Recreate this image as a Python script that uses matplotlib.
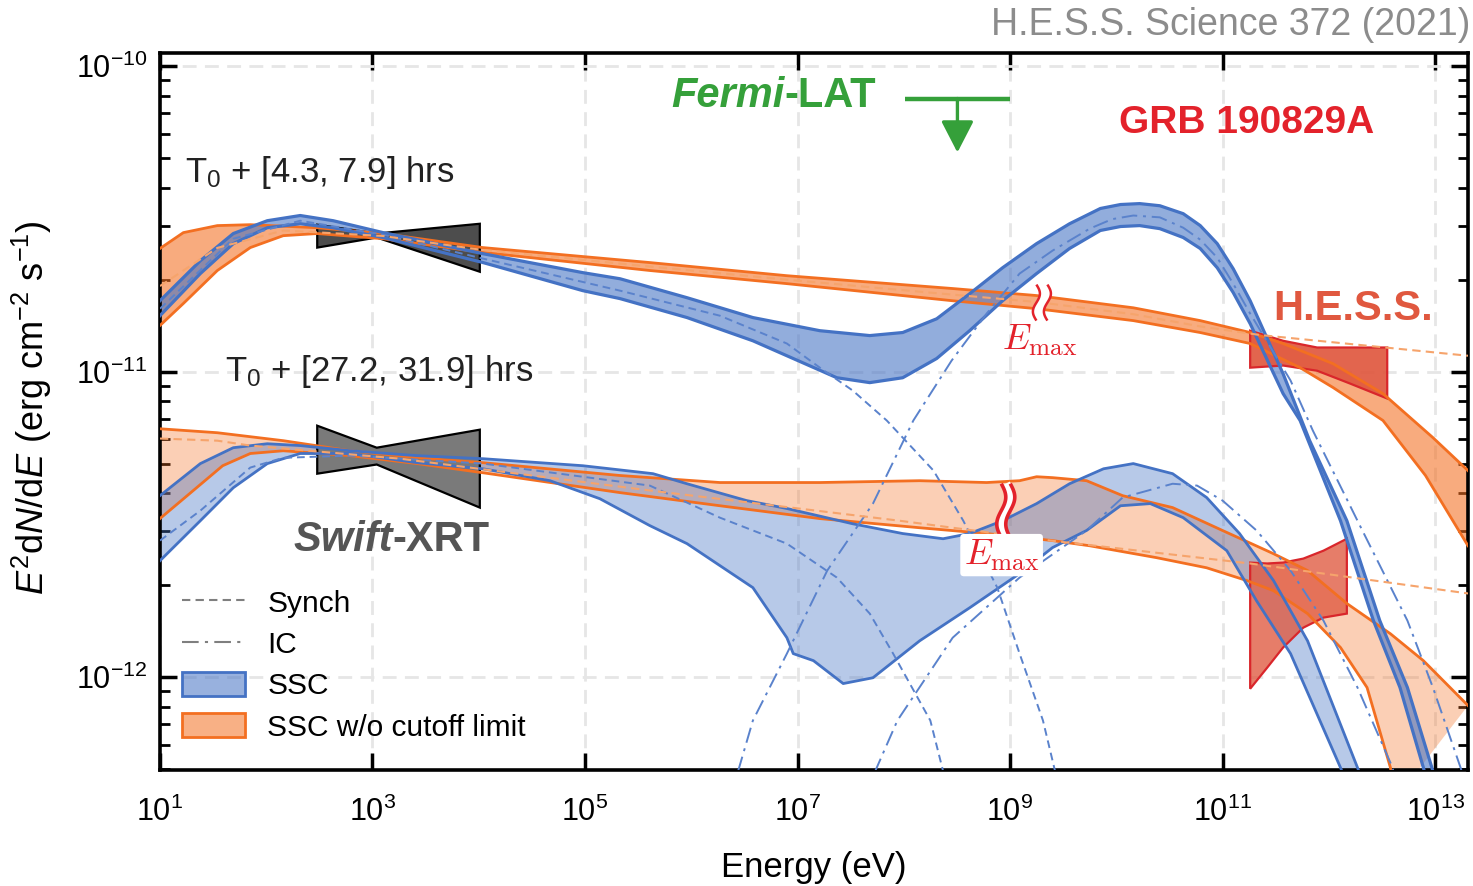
#!/usr/bin/env python3
"""GRB 190829A broadband SED at two epochs: SSC model bands against
Swift-XRT / H.E.S.S. bowties and the Fermi-LAT upper limit.

All curves are read off the published figure and kept as
log10(E / eV) and log10(E^2 dN/dE / erg cm^-2 s^-1).
"""

import numpy as np
import matplotlib
matplotlib.use("Agg")
import matplotlib.pyplot as plt
from matplotlib.colors import to_rgba
from matplotlib.lines import Line2D
from matplotlib.patches import Patch, FancyArrowPatch
from matplotlib.ticker import FixedLocator, NullLocator

# ---- epoch 1: T0 + [4.3, 7.9] hrs ---------------------------------------
T1_SSC_HI_LOGE = [1.00, 1.38, 1.69, 2.01, 2.32, 2.63, 3.10, 4.04, 4.98, 5.33,
                  5.96, 6.58, 7.21, 7.68, 7.99, 8.31, 8.62, 8.93, 9.25, 9.56,
                  9.85, 10.04, 10.22, 10.41, 10.63, 10.79, 10.95, 11.10, 11.26,
                  11.57, 11.82, 12.17, 12.48, 12.74, 12.97, 13.05]
T1_SSC_HI_LOGF = [-10.768, -10.637, -10.548, -10.506, -10.489, -10.506, -10.545,
                  -10.614, -10.676, -10.696, -10.758, -10.823, -10.866, -10.882,
                  -10.872, -10.827, -10.745, -10.660, -10.581, -10.516, -10.466,
                  -10.453, -10.450, -10.457, -10.483, -10.522, -10.581, -10.663,
                  -10.768, -11.007, -11.226, -11.488, -11.815, -12.034, -12.296,
                  -12.404]
T1_SSC_LO_LOGE = [1.00, 1.38, 1.69, 2.01, 2.32, 2.63, 3.10, 4.04, 4.98, 5.33,
                  5.96, 6.58, 7.05, 7.37, 7.68, 7.99, 8.31, 8.62, 8.93, 9.25,
                  9.56, 9.85, 10.04, 10.22, 10.41, 10.63, 10.79, 10.95, 11.10,
                  11.26, 11.57, 11.73, 12.11, 12.42, 12.67, 12.89, 12.97]
T1_SSC_LO_LOGF = [-10.817, -10.679, -10.581, -10.529, -10.516, -10.529, -10.561,
                  -10.643, -10.735, -10.761, -10.823, -10.899, -10.971, -11.020,
                  -11.036, -11.020, -10.957, -10.866, -10.768, -10.679, -10.597,
                  -10.538, -10.525, -10.522, -10.532, -10.561, -10.597, -10.660,
                  -10.741, -10.843, -11.072, -11.160, -11.488, -11.815, -12.034,
                  -12.296, -12.404]
T1_SYN_LOGE = [1.00, 1.69, 2.32, 3.10, 4.04, 5.33, 6.27, 6.90, 7.21, 7.52, 7.84,
               8.28, 8.56, 8.88, 9.09, 9.31, 9.49]
T1_SYN_LOGF = [-10.794, -10.565, -10.506, -10.552, -10.630, -10.735, -10.817,
               -10.908, -10.987, -11.062, -11.160, -11.324, -11.488, -11.707,
               -11.923, -12.142, -12.404]
T1_IC_LOGE = [6.36, 6.58, 6.90, 7.28, 7.71, 8.09, 8.45, 8.78, 9.09, 9.40, 9.75,
              9.96, 10.16, 10.41, 10.63, 10.79, 10.95, 11.10, 11.26, 11.64,
              11.85, 12.27, 12.74, 12.98, 13.24, 13.33]
T1_IC_LOGF = [-12.404, -12.142, -11.923, -11.651, -11.432, -11.160, -10.964,
              -10.810, -10.679, -10.604, -10.532, -10.501, -10.489, -10.495,
              -10.529, -10.568, -10.627, -10.712, -10.810, -11.029, -11.193,
              -11.488, -11.815, -12.034, -12.296, -12.404]
T1_NOCUT_HI_LOGE = [1.00, 1.22, 1.54, 1.85, 2.48, 3.10, 4.04, 5.61, 6.90, 8.46,
                    9.25, 10.16, 10.79, 11.26, 11.57, 12.04, 12.51, 12.98, 13.31]
T1_NOCUT_HI_LOGF = [-10.597, -10.545, -10.522, -10.519, -10.529, -10.548,
                    -10.594, -10.643, -10.686, -10.728, -10.751, -10.791,
                    -10.833, -10.872, -10.908, -10.974, -11.072, -11.216, -11.324]
T1_NOCUT_LO_LOGE = [1.00, 1.22, 1.54, 1.85, 2.16, 2.48, 3.10, 4.04, 5.61, 6.90,
                    8.46, 9.25, 10.16, 10.79, 11.26, 11.73, 12.04, 12.51, 12.91,
                    13.31]
T1_NOCUT_LO_LOGF = [-10.849, -10.777, -10.669, -10.594, -10.555, -10.548,
                    -10.565, -10.610, -10.669, -10.712, -10.768, -10.794,
                    -10.833, -10.872, -10.908, -10.987, -11.052, -11.160,
                    -11.340, -11.570]
T1_NOCUT_SYN_LOGE = [1.00, 1.54, 2.16, 3.10, 4.04, 5.61, 6.90, 8.46, 9.25, 10.16,
                     10.79, 11.35, 13.31]
T1_NOCUT_SYN_LOGF = [-10.720, -10.595, -10.538, -10.556, -10.602, -10.656,
                     -10.699, -10.748, -10.772, -10.812, -10.852, -10.880,
                     -10.948]

# ---- epoch 2: T0 + [27.2, 31.9] hrs -------------------------------------
T2_SSC_HI_LOGE = [1.00, 1.38, 1.69, 2.01, 2.32, 2.79, 3.42, 4.04, 4.98, 5.64,
                  5.96, 6.52, 6.90, 7.52, 7.99, 8.37, 8.62, 8.93, 9.25, 9.56,
                  9.88, 10.16, 10.53, 10.85, 11.16, 11.48, 11.80, 12.27, 12.39]
T2_SSC_HI_LOGF = [-11.406, -11.301, -11.249, -11.236, -11.242, -11.259, -11.275,
                  -11.285, -11.308, -11.334, -11.367, -11.422, -11.448, -11.498,
                  -11.530, -11.547, -11.530, -11.488, -11.432, -11.367, -11.318,
                  -11.301, -11.334, -11.412, -11.530, -11.684, -11.881, -12.296,
                  -12.404]
T2_SSC_LO_LOGE = [1.00, 1.38, 1.69, 2.01, 2.32, 2.79, 3.42, 4.04, 4.67, 5.14,
                  5.61, 5.96, 6.58, 6.90, 6.96, 7.15, 7.43, 7.71, 8.15, 8.62,
                  9.09, 9.40, 9.72, 10.04, 10.32, 10.63, 11.04, 11.32, 11.64,
                  12.11, 12.23]
T2_SSC_LO_LOGF = [-11.619, -11.488, -11.380, -11.301, -11.268, -11.268, -11.298,
                  -11.318, -11.357, -11.416, -11.504, -11.563, -11.707, -11.871,
                  -11.923, -11.946, -12.021, -12.002, -11.881, -11.773, -11.661,
                  -11.576, -11.520, -11.439, -11.432, -11.478, -11.586, -11.750,
                  -11.923, -12.296, -12.404]
T2_SYN_LOGE = [1.00, 1.38, 1.85, 2.16, 2.79, 4.04, 5.61, 6.27, 6.90, 7.37, 7.68,
               7.90, 8.25, 8.44]
T2_SYN_LOGF = [-11.553, -11.455, -11.314, -11.282, -11.275, -11.301, -11.373,
               -11.478, -11.563, -11.674, -11.792, -11.923, -12.142, -12.404]
T2_IC_LOGE = [7.61, 7.94, 8.46, 9.09, 9.72, 10.06, 10.53, 10.76, 11.00, 11.32,
              11.64, 11.95, 12.27, 12.60, 12.67]
T2_IC_LOGF = [-12.404, -12.142, -11.871, -11.674, -11.520, -11.412, -11.367,
              -11.373, -11.422, -11.520, -11.651, -11.815, -12.034, -12.296,
              -12.404]
T2_NOCUT_HI_LOGE = [1.00, 1.54, 2.16, 2.79, 3.42, 4.04, 5.33, 6.27, 7.21, 8.15,
                    8.78, 9.09, 9.25, 9.40, 9.72, 10.06, 10.53, 11.00, 11.48,
                    11.80, 12.17, 12.58, 12.89, 13.31]
T2_NOCUT_HI_LOGF = [-11.187, -11.200, -11.226, -11.259, -11.282, -11.298,
                    -11.340, -11.363, -11.363, -11.357, -11.363, -11.357,
                    -11.344, -11.347, -11.357, -11.406, -11.445, -11.520,
                    -11.596, -11.651, -11.759, -11.858, -11.946, -12.093]
T2_NOCUT_LO_LOGE = [1.00, 1.28, 1.59, 1.85, 2.16, 2.79, 3.42, 4.04, 5.33, 6.27,
                    7.21, 8.15, 8.78, 9.40, 9.75, 10.38, 10.85, 11.23, 11.48,
                    11.80, 12.11, 12.36, 12.58, 12.62]
T2_NOCUT_LO_LOGF = [-11.481, -11.399, -11.308, -11.268, -11.259, -11.275,
                    -11.301, -11.331, -11.396, -11.439, -11.481, -11.511,
                    -11.530, -11.553, -11.570, -11.609, -11.642, -11.684,
                    -11.717, -11.792, -11.903, -12.034, -12.296, -12.404]
T2_NOCUT_SYN_LOGE = [1.00, 1.54, 1.85, 3.26, 5.61, 7.96, 9.38, 11.26, 13.33]
T2_NOCUT_SYN_LOGF = [-11.219, -11.226, -11.242, -11.285, -11.389, -11.488,
                     -11.553, -11.628, -11.727]

# ---- data bowties ---------------------------------------------------------
XRT_LOGE = [2.48, 3.04, 4.01]
XRT1_HI = [-10.519, -10.548, -10.516]
XRT1_LO = [-10.594, -10.561, -10.673]
XRT2_HI = [-11.177, -11.249, -11.190]
XRT2_LO = [-11.334, -11.304, -11.445]

HESS1_LOGE = [11.26, 11.57, 11.89, 12.20, 12.55]
HESS1_HI = [-10.866, -10.899, -10.921, -10.921, -10.921]
HESS1_LO = [-10.987, -10.980, -10.997, -11.039, -11.088]
HESS2_LOGE = [11.26, 11.42, 11.57, 11.76, 11.95, 12.17]
HESS2_HI = [-11.625, -11.628, -11.625, -11.612, -11.586, -11.547]
HESS2_LO = [-12.038, -11.969, -11.903, -11.838, -11.805, -11.792]

FERMI_LOGE = [8.01, 9.00]
FERMI_LOGF = -10.106

# E_max markers (log E, log F) for the two epochs
EMAX_LOGE = [9.30, 8.96]
EMAX_LOGF = [-10.774, -11.455]

BLUE = "#4472c4"
ORANGE = "#f36f21"
ORANGE_DASH = "#f6a46c"
RED = "#e3222b"
HESS_RED = "#e0583f"
GREEN = "#35a03a"
GRID = "#e6e6e6"

plt.rcParams["font.family"] = "Liberation Sans"
plt.rcParams["mathtext.fontset"] = "custom"
plt.rcParams["mathtext.rm"] = "Liberation Sans"
plt.rcParams["mathtext.it"] = "Liberation Sans:italic"
plt.rcParams["mathtext.bf"] = "Liberation Sans:bold"
plt.rcParams["axes.unicode_minus"] = False


def p(a):
    return 10.0 ** np.asarray(a, dtype=float)


def band(ax, hx, hy, lx, ly, color, alpha, lw):
    xs = np.concatenate([hx, lx[::-1]])
    ys = np.concatenate([hy, ly[::-1]])
    ax.fill(p(xs), p(ys), facecolor=to_rgba(color, alpha), lw=0, zorder=2)
    ax.plot(p(hx), p(hy), color=color, lw=lw, zorder=4, solid_joinstyle="round")
    ax.plot(p(lx), p(ly), color=color, lw=lw, zorder=4, solid_joinstyle="round")


def bowtie(ax, x, hi, lo, face, edge, alpha, zorder=3):
    xs = np.concatenate([x, x[::-1]])
    ys = np.concatenate([hi, lo[::-1]])
    ax.fill(p(xs), p(ys), facecolor=to_rgba(face, alpha), edgecolor=edge,
            lw=1.6, zorder=zorder, joinstyle="miter")


def squiggle(ax, loge, logf, height, sep, amp, lw):
    # wavy "break" mark drawn in pixel space around a data point
    cx, cy = ax.transData.transform((10 ** loge, 10 ** logf))
    t = np.linspace(0, 1, 80)
    dx = amp * np.sin(2 * np.pi * t)
    dy = height * (0.5 - t)
    inv = ax.transData.inverted()
    w = inv.transform(np.column_stack([cx + dx, cy + dy]))
    ax.plot(w[:, 0], w[:, 1], color="white", lw=sep * 0.72,
            solid_capstyle="butt", zorder=6)
    for s in (-sep / 2, sep / 2):
        q = inv.transform(np.column_stack([cx + dx + s, cy + dy]))
        ax.plot(q[:, 0], q[:, 1], color=RED, lw=lw, zorder=7,
                solid_capstyle="butt")


fig = plt.figure(figsize=(14.73, 8.86), dpi=100)
ax = fig.add_axes([0.1086, 0.1309, 0.8880, 0.8093])
ax.set_xscale("log")
ax.set_yscale("log")
ax.set_xlim(10 ** 1, 10 ** 13.31)
ax.set_ylim(10 ** -12.304, 10 ** -9.957)

# model bands: orange (no cutoff) underneath, blue SSC on top
band(ax, T1_NOCUT_HI_LOGE, T1_NOCUT_HI_LOGF, T1_NOCUT_LO_LOGE, T1_NOCUT_LO_LOGF,
     ORANGE, 0.58, 2.0)
band(ax, T2_NOCUT_HI_LOGE, T2_NOCUT_HI_LOGF, T2_NOCUT_LO_LOGE, T2_NOCUT_LO_LOGF,
     ORANGE, 0.33, 2.0)
band(ax, T1_SSC_HI_LOGE, T1_SSC_HI_LOGF, T1_SSC_LO_LOGE, T1_SSC_LO_LOGF,
     BLUE, 0.58, 2.3)
band(ax, T2_SSC_HI_LOGE, T2_SSC_HI_LOGF, T2_SSC_LO_LOGE, T2_SSC_LO_LOGF,
     BLUE, 0.38, 2.0)

# components
dash = (0, (4, 2.5))
dashdot = (0, (8, 3, 1.5, 3))
for x, y in [(T1_SYN_LOGE, T1_SYN_LOGF), (T2_SYN_LOGE, T2_SYN_LOGF)]:
    ax.plot(p(x), p(y), color="#5a82cc", lw=1.4, ls=dash, zorder=4)
for x, y in [(T1_IC_LOGE, T1_IC_LOGF), (T2_IC_LOGE, T2_IC_LOGF)]:
    ax.plot(p(x), p(y), color="#5a82cc", lw=1.4, ls=dashdot, zorder=4)
for x, y in [(T1_NOCUT_SYN_LOGE, T1_NOCUT_SYN_LOGF),
             (T2_NOCUT_SYN_LOGE, T2_NOCUT_SYN_LOGF)]:
    ax.plot(p(x), p(y), color=ORANGE_DASH, lw=1.5, ls=dash, zorder=4)

# data bowties
bowtie(ax, XRT_LOGE, XRT1_HI, XRT1_LO, "#4d4d4d", "black", 1.0)
bowtie(ax, XRT_LOGE, XRT2_HI, XRT2_LO, "#7a7a7a", "black", 1.0)
bowtie(ax, HESS1_LOGE, HESS1_HI, HESS1_LO, HESS_RED, "#d9262b", 0.92)
bowtie(ax, HESS2_LOGE, HESS2_HI, HESS2_LO, HESS_RED, "#d9262b", 0.78)

# Fermi-LAT upper limit: bar plus a downward arrow of fixed screen length
ax.plot(p(FERMI_LOGE), p([FERMI_LOGF, FERMI_LOGF]), color=GREEN, lw=3.2,
        solid_capstyle="butt", zorder=5)
fx, fy = ax.transData.transform((10 ** np.mean(FERMI_LOGE), 10 ** FERMI_LOGF))
tip = ax.transData.inverted().transform((fx, fy - 54))
ax.add_patch(FancyArrowPatch((10 ** np.mean(FERMI_LOGE), 10 ** FERMI_LOGF),
                             tuple(tip),
                             arrowstyle="-|>,head_length=0.97,head_width=0.5",
                             mutation_scale=20, color=GREEN, lw=2.4,
                             shrinkA=0, shrinkB=0, zorder=5))

# E_max break marks
squiggle(ax, EMAX_LOGE[0], EMAX_LOGF[0], 36, 11, 3.5, 1.8)
squiggle(ax, EMAX_LOGE[1], EMAX_LOGF[1], 54, 9, 4.5, 2.6)
ax.annotate(r"$E_{\rm max}$", xy=(10 ** EMAX_LOGE[0], 10 ** EMAX_LOGF[0]),
            xytext=(-1.5, -27), textcoords="offset points", ha="center",
            va="center", fontsize=26, color=RED, math_fontfamily="cm",
            zorder=8)
ax.annotate(r"$E_{\rm max}$", xy=(10 ** EMAX_LOGE[1], 10 ** EMAX_LOGF[1]),
            xytext=(-3, -32), textcoords="offset points", ha="center",
            va="center", fontsize=26, color=RED, math_fontfamily="cm",
            bbox=dict(boxstyle="round,pad=0.1", fc="white", ec="none"),
            zorder=8)

# axes styling
ax.xaxis.set_major_locator(FixedLocator(p([1, 3, 5, 7, 9, 11, 13])))
ax.xaxis.set_minor_locator(NullLocator())
ax.tick_params(which="both", direction="in", top=True, right=True,
               labelsize=22)
ax.tick_params(which="major", length=12, width=2.5)
ax.tick_params(which="minor", length=7, width=2)
ax.tick_params(axis="x", pad=19)
ax.tick_params(axis="y", pad=9)
for s in ax.spines.values():
    s.set_linewidth(2.6)
ax.xaxis.offsetText.set_visible(False)
ax.yaxis.offsetText.set_visible(False)
ax.set_axisbelow(True)
ax.grid(True, which="major", color=GRID, lw=2, ls=(0, (5, 3)))

ax.set_xlabel("Energy (eV)", fontsize=25)
ax.xaxis.set_label_coords(0.5, -0.113)
ax.set_ylabel(r"$E^{2}$d$N$/d$E$ (erg cm$^{-2}$ s$^{-1}$)", fontsize=26)
ax.yaxis.set_label_coords(-0.081, 0.506)

# labels
ax.text(0.019, 0.820, r"T$_0$ + [4.3, 7.9] hrs", transform=ax.transAxes,
        fontsize=25, color="#222222", va="baseline")
ax.text(0.0497, 0.5425, r"T$_0$ + [27.2, 31.9] hrs", transform=ax.transAxes,
        fontsize=25, color="#222222", va="baseline")
ax.text(0.831, 0.888, "GRB 190829A", transform=ax.transAxes, fontsize=28,
        fontweight="bold", color=RED, ha="center", va="baseline")
ax.text(0.912, 0.6276, "H.E.S.S.", transform=ax.transAxes, fontsize=30,
        fontweight="bold", color=HESS_RED, ha="center", va="baseline")
t = ax.text(0.391, 0.912, "Fermi", transform=ax.transAxes, fontsize=30,
            fontweight="bold", style="italic", color=GREEN, va="bottom")
ax.annotate("-LAT", xy=(1, 0), xycoords=t, fontsize=30, fontweight="bold",
            color=GREEN, va="bottom", ha="left")
t = ax.text(0.1017, 0.293, "Swift", transform=ax.transAxes, fontsize=30,
            fontweight="bold", style="italic", color="#555555", va="bottom")
ax.annotate("-XRT", xy=(1, 0), xycoords=t, fontsize=30, fontweight="bold",
            color="#555555", va="bottom", ha="left")

fig.text(0.998, 0.9605, "H.E.S.S. Science 372 (2021)", fontsize=27,
         color="#8c8c8c", ha="right", va="baseline")

handles = [
    Line2D([], [], color="#7f7f7f", lw=1.5, ls=dash),
    Line2D([], [], color="#7f7f7f", lw=1.5, ls=dashdot),
    Patch(facecolor=to_rgba(BLUE, 0.55), edgecolor=BLUE, lw=2),
    Patch(facecolor=to_rgba(ORANGE, 0.55), edgecolor=ORANGE, lw=2),
]
ax.legend(handles, ["Synch", "IC", "SSC", "SSC w/o cutoff limit"],
          loc="upper left", bbox_to_anchor=(0.017, 0.252), frameon=False,
          fontsize=21.5, handlelength=2.1, handleheight=0.85, handletextpad=0.75,
          labelspacing=0.44, borderpad=0, borderaxespad=0)

fig.savefig("out.png", dpi=100)
